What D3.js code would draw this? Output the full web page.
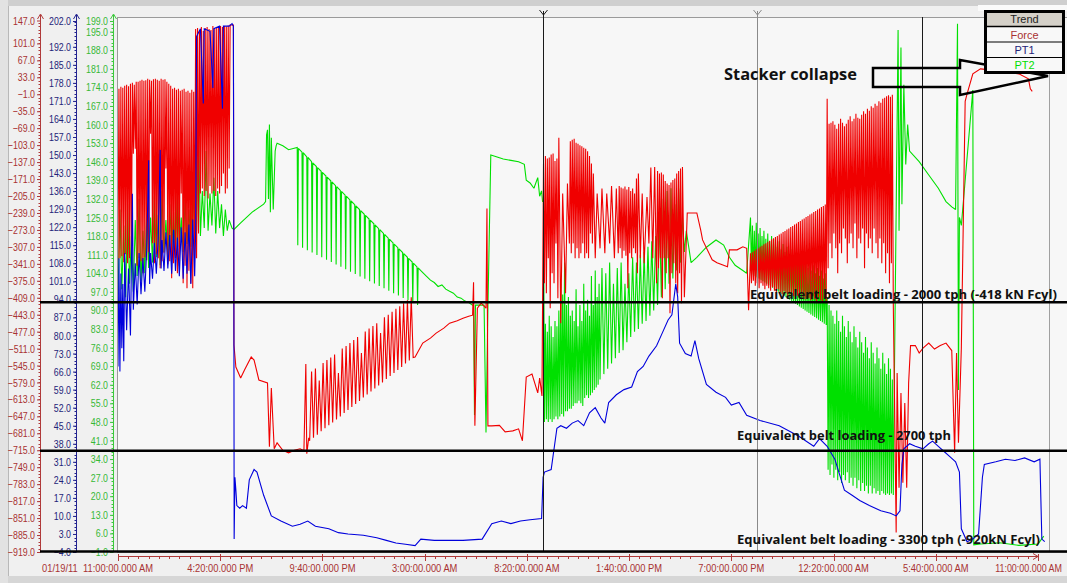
<!DOCTYPE html>
<html><head><meta charset="utf-8">
<script src="https://cdn.jsdelivr.net/npm/d3@7"></script>
<style>
html,body{margin:0;padding:0;background:#f0f0f0}
svg{display:block}
text{font-family:"Liberation Sans",Arial,sans-serif}
</style>
</head><body>
<svg id="chart" width="1067" height="583"></svg>
<script>
// ---- time axis: hours after 01/19/11 11:00 AM ----
const xTickLabels = ["11:00:00.000 AM","4:20:00.000 PM","9:40:00.000 PM","3:00:00.000 AM","8:20:00.000 AM",
  "1:40:00.000 PM","7:00:00.000 PM","12:20:00.000 AM","5:40:00.000 AM","11:00:00.000 AM"];
const xTickHours = [0, 5.333, 10.667, 16, 21.333, 26.667, 32, 37.333, 42.667, 48];
const startDateLabel = "01/19/11";

// ---- value axis ticks ----
const forceTicks = [147,101,67,33,-1,-35,-69,-103,-137,-171,-205,-239,-273,-307,-341,-375,-409,-443,-477,-511,
  -545,-579,-613,-647,-681,-715,-749,-783,-817,-851,-885,-919];
const pt1Ticks = [202,192,185,178,171,164,157,150,143,136,129,122,115,108,101,94,87,80,73,66,59,52,45,38,31,24,17,10,3,-4];
const pt2Ticks = [199,195,188,181,174,167,160,153,146,139,132,125,118,111,104,97,90,83,76,69,62,55,48,41,34,27,20,13,6,-1];

// ---- reference force levels (kN) ----
const beltLevels = [-418, -716, -918];
const beltNotes = ["Equivalent belt loading - 2000 tph (-418 kN Fcyl)", "Equivalent belt loading - 2700 tph",
  "Equivalent belt loading - 3300 tph (-920kN Fcyl)"];

// ---- cursor positions (hours) ----
const cursorHours = [22.17, 33.33, 41.95];

// ---- Force trend [hour, kN] ----
const force = [
[0.00,-333],[0.05,10],[0.10,-330],[0.15,14],[0.20,-326],[0.25,12],[0.30,-338],[0.35,16],[0.40,-322],[0.45,18],
[0.50,-340],[0.55,15],[0.60,-330],[0.65,20],[0.70,-325],[0.75,22],[0.80,-120],[0.85,18],[0.90,-110],[0.95,24],
[1.00,-345],[1.05,24],[1.10,-330],[1.15,26],[1.20,-336],[1.25,28],[1.30,-360],[1.35,26],[1.40,-328],[1.45,27],
[1.50,-334],[1.55,30],[1.60,-318],[1.65,28],[1.70,-80],[1.75,26],[1.80,-300],[1.85,29],[1.90,-340],[1.95,30],
[2.00,-322],[2.05,28],[2.10,-330],[2.15,26],[2.20,-350],[2.25,30],[2.30,-336],[2.35,28],[2.40,-320],[2.45,29],
[2.50,-150],[2.55,24],[2.60,-342],[2.65,20],[2.70,-336],[2.75,16],[2.80,-370],[2.85,10],[2.90,-340],[2.95,12],
[3.00,-330],[3.05,8],[3.10,-360],[3.15,10],[3.20,-345],[3.25,6],[3.30,-200],[3.35,8],[3.40,-380],[3.45,10],
[3.50,-345],[3.55,4],[3.60,-390],[3.65,6],[3.70,-355],[3.75,2],[3.80,-380],[3.85,8],[3.90,-390],[3.95,4],
[4.00,-330],[4.05,130],[4.10,-330],[4.15,132],[4.20,-280],[4.25,128],[4.30,-200],[4.35,134],[4.40,-190],[4.45,126],
[4.50,-205],[4.55,132],[4.60,-195],[4.65,134],[4.70,-210],[4.75,130],[4.80,-185],[4.85,128],[4.90,-200],[4.95,136],
[5.00,-195],[5.05,130],[5.10,-205],[5.15,134],[5.20,-190],[5.25,132],[5.30,-200],[5.35,136],[5.40,-185],[5.45,134],
[5.50,-160],[5.55,136],[5.60,-200],[5.65,135],[5.70,-190],[5.75,137],[5.80,-150],[5.85,138],[6.02,138],
[6.05,-504],[6.15,-548],[6.4,-570],[6.6,-554],[6.95,-528],[7.1,-534],[7.35,-574],[7.8,-580],[7.9,-708],[8.0,-590],
[8.15,-712],[8.3,-700],[8.6,-715],[8.9,-720],[9.2,-715],[9.5,-712],[9.7,-716],[9.8,-542],[9.85,-722],[9.95,-690],
[10.0,-696],[10.1,-557],[10.2,-690],[10.3,-551],[10.4,-684],[10.5,-575],[10.6,-677],[10.7,-540],[10.8,-671],[10.9,-534],
[11.0,-665],[11.1,-529],[11.2,-659],[11.3,-523],[11.4,-653],[11.5,-560],[11.6,-647],[11.7,-511],[11.8,-640],[11.9,-506],
[12.0,-634],[12.1,-500],[12.2,-628],[12.3,-494],[12.4,-622],[12.5,-488],[12.6,-616],[12.7,-520],[12.8,-609],[12.9,-477],
[13.0,-603],[13.1,-471],[13.2,-597],[13.3,-466],[13.4,-591],[13.5,-460],[13.6,-585],[13.7,-480],[13.8,-579],[13.9,-448],
[14.0,-572],[14.1,-443],[14.2,-566],[14.3,-437],[14.4,-560],[14.5,-431],[14.6,-554],[14.7,-426],[14.8,-548],[14.9,-420],
[15.0,-541],[15.1,-414],[15.2,-535],[15.3,-408],[15.4,-529],[15.5,-528],[15.9,-500],[16.3,-490],[16.6,-480],[17.0,-470],
[17.3,-460],[17.7,-455],[18.0,-450],[18.3,-446],[18.5,-444],[18.55,-378],[18.62,-666],[18.75,-430],[18.95,-420],[19.2,-430],
[19.25,-230],[19.3,-666],[19.5,-666],[19.9,-665],[20.2,-678],[20.6,-676],[20.9,-672],[21.1,-696],[21.3,-568],[21.6,-562],
[21.9,-600],[22.0,-570],[22.12,-606],[22.20,-140],[22.25,-380],[22.30,-125],[22.35,-400],[22.40,-130],[22.45,-330],
[22.50,-128],[22.55,-430],[22.60,-122],[22.65,-360],[22.70,-120],[22.75,-380],[22.80,-135],[22.85,-300],[22.90,-130],
[22.95,-410],[23.00,-88],[23.10,-460],[23.20,-200],[23.35,-400],[23.45,-180],[23.55,-300],[23.60,-95],[23.65,-320],
[23.70,-92],[23.75,-300],[23.80,-90],[23.85,-330],[23.90,-98],[23.95,-310],[24.00,-100],[24.05,-330],[24.10,-103],
[24.15,-320],[24.20,-105],[24.25,-300],[24.30,-108],[24.35,-330],[24.40,-110],[24.45,-320],[24.50,-115],[24.55,-330],
[24.60,-125],[24.65,-280],[24.70,-140],[24.75,-300],[24.80,-160],[24.9,-330],[25.0,-200],[25.15,-310],[25.25,-190],
[25.4,-320],[25.5,-200],[25.65,-300],[25.75,-185],[25.9,-330],[26.0,-190],[26.1,-320],[26.15,-185],[26.2,-310],
[26.25,-188],[26.3,-330],[26.35,-190],[26.4,-315],[26.45,-186],[26.5,-325],[26.55,-192],[26.6,-390],[26.65,-187],
[26.7,-320],[26.75,-195],[26.8,-330],[26.85,-190],[26.9,-310],[26.95,-200],[27.0,-320],[27.05,-170],[27.1,-360],
[27.15,-160],[27.25,-330],[27.35,-200],[27.45,-340],[27.6,-207],[27.7,-300],[27.8,-148],[27.9,-330],[28.0,-147],
[28.1,-380],[28.15,-155],[28.2,-350],[28.25,-160],[28.3,-330],[28.35,-158],[28.4,-410],[28.45,-162],[28.5,-330],
[28.55,-175],[28.6,-360],[28.65,-180],[28.7,-330],[28.75,-183],[28.8,-440],[28.85,-178],[28.9,-360],[28.95,-173],
[29.0,-340],[29.05,-170],[29.1,-380],[29.15,-160],[29.2,-400],[29.25,-155],[29.3,-360],[29.35,-150],[29.4,-420],
[29.45,-147],[29.55,-408],[29.7,-239],[30.2,-239],[30.4,-273],[30.5,-293],[31.0,-333],[31.25,-339],[31.8,-347],
[31.9,-313],[32.3,-313],[32.6,-307],[32.8,-310],[32.9,-434],
[33.00,-320],[33.05,-380],[33.10,-318],[33.15,-375],[33.20,-315],[33.25,-385],[33.30,-312],[33.35,-380],[33.40,-310],
[33.45,-390],[33.50,-307],[33.55,-380],[33.60,-305],[33.65,-385],[33.70,-302],[33.75,-392],[33.80,-300],[33.85,-385],
[33.90,-297],[33.95,-390],[34.00,-295],[34.05,-395],[34.10,-292],[34.15,-388],[34.20,-290],[34.25,-395],[34.30,-287],
[34.35,-400],[34.40,-285],[34.45,-392],[34.50,-282],[34.55,-398],[34.60,-280],[34.65,-402],[34.70,-277],[34.75,-396],
[34.80,-275],[34.85,-400],[34.90,-272],[34.95,-405],[35.00,-270],[35.05,-398],[35.10,-267],[35.15,-402],[35.20,-265],
[35.25,-406],[35.30,-262],[35.35,-400],[35.40,-260],[35.45,-405],[35.50,-257],[35.55,-410],[35.60,-255],[35.65,-402],
[35.70,-252],[35.75,-408],[35.80,-250],[35.85,-412],[35.90,-247],[35.95,-405],[36.00,-245],[36.05,-410],[36.10,-242],
[36.15,-414],[36.20,-240],[36.25,-406],[36.30,-237],[36.35,-412],[36.40,-235],[36.45,-416],[36.50,-232],[36.55,-408],
[36.60,-230],[36.65,-414],[36.70,-227],[36.75,-418],[36.80,-225],[36.85,-410],[36.90,-222],[36.95,-420],
[37.00,-10],[37.05,-350],[37.10,-60],[37.15,-300],[37.20,-58],[37.25,-330],[37.30,-55],[37.35,-280],[37.40,-62],
[37.45,-310],[37.50,-70],[37.55,-360],[37.60,-60],[37.65,-300],[37.70,-50],[37.75,-320],[37.80,-58],[37.85,-270],
[37.90,-65],[37.95,-290],[38.00,-60],[38.05,-340],[38.10,-52],[38.15,-300],[38.20,-45],[38.25,-280],[38.30,-55],
[38.35,-310],[38.40,-50],[38.45,-260],[38.50,-40],[38.55,-330],[38.60,-48],[38.65,-290],[38.70,-50],[38.75,-300],
[38.80,-42],[38.85,-270],[38.90,-35],[38.95,-350],[39.00,-40],[39.05,-280],[39.10,-30],[39.15,-310],[39.20,-34],
[39.25,-290],[39.30,-25],[39.35,-320],[39.40,-28],[39.45,-270],[39.50,-20],[39.55,-300],[39.60,-24],[39.65,-330],
[39.70,-15],[39.75,-290],[39.80,-18],[39.85,-340],[39.90,-10],[39.95,-300],[40.00,-8],[40.05,-360],[40.10,-5],
[40.15,-320],[40.20,-3],[40.25,-380],[40.30,-6],[40.35,-340],[40.40,-2],[40.45,-420],
[40.6,-880],[40.65,-560],[40.75,-790],[40.85,-600],[40.95,-780],[41.05,-620],[41.15,-790],[41.25,-580],[41.35,-505],
[41.6,-505],[41.8,-520],[42.0,-510],[42.3,-500],[42.6,-512],[42.9,-505],[43.2,-500],[43.5,-515],[43.65,-720],[43.75,-520],
[43.85,-700],[44.0,-510],[44.2,-15],[44.3,0],[44.6,40],[45.0,50],[45.5,48],[46.0,45],[46.5,42],[47.0,40],[47.5,30],
[47.6,10],[47.7,5]
];

// ---- PT1 trend ----
const pt1 = [
[0.00,68],[0.05,110],[0.1,66],[0.15,104],[0.2,75],[0.25,100],[0.3,70],[0.35,112],[0.45,82],[0.55,106],[0.65,80],
[0.75,135],[0.8,90],[0.9,108],[1.0,92],[1.1,112],[1.2,96],[1.3,110],[1.4,97],[1.5,114],[1.6,148],[1.65,100],[1.7,112],
[1.8,102],[1.9,116],[2.0,104],[2.1,118],[2.2,152],[2.25,106],[2.3,117],[2.4,105],[2.5,120],[2.6,106],[2.7,119],[2.8,104],
[2.9,121],[3.0,105],[3.1,118],[3.2,103],[3.3,122],[3.4,102],[3.5,120],[3.6,104],[3.7,123],[3.8,100],[3.9,125],[4.0,103],
[4.05,120],[4.1,196],[4.3,199],[4.45,170],[4.5,199],[4.8,198],[4.95,176],[5.0,199],[5.3,200],[5.45,168],[5.5,200],
[5.8,200],[5.95,201],[6.02,200],[6.04,135],[6.06,1],[6.1,25],[6.15,20],[6.2,14],[6.35,13],[6.5,14],
[6.7,13],[6.85,24],[7.1,28],[7.25,27],[7.6,18],[8.0,10],[8.5,8],[9.1,6],[9.5,6.8],[9.9,8],[10.3,6],[11.0,5],[11.5,3.5],
[12.0,3],[12.8,2.5],[13.5,1.5],[14.0,0.5],[14.5,-0.5],[15.0,-1],[15.5,-1.5],[15.8,1],[16.5,0.5],[18.0,0.5],[19.0,1],
[19.5,7],[20.0,8],[20.5,7],[21.0,8],[21.5,8.5],[22.1,9],[22.18,25],[22.25,27],[22.6,28],[22.9,44],[23.1,45],[23.4,44],
[23.7,46],[24.0,47],[24.3,45],[24.6,50],[24.9,52],[25.2,48],[25.4,46],[25.6,54],[26.0,57],[26.4,59],[26.8,60],[27.1,66],
[27.4,68],[27.7,72],[28.1,76],[28.4,81],[28.7,86],[28.9,88],[29.1,100],[29.2,95],[29.3,77],[29.6,73],[29.9,72],[30.1,78],
[30.3,71],[30.7,61],[31.2,58],[31.7,56],[32.0,53],[32.4,54],[32.8,49],[33.5,47],[34.5,45],[35.5,41],[36.3,37],[36.6,40],
[37.0,37],[37.4,32],[37.9,20],[38.3,18],[38.7,16],[39.2,14],[39.8,12],[40.3,11],[40.6,10],[40.8,12],[40.9,30],[41.0,36],
[41.3,38],[41.6,37],[42.0,36],[42.3,38],[42.5,39],[42.8,37],[43.1,35],[43.4,33],[43.7,31],[43.9,27],[44.0,5],[44.3,0],
[44.6,1],[44.9,3],[45.1,25],[45.2,30],[45.8,31],[46.3,32],[46.8,31.5],[47.3,32.5],[47.8,31],[48.1,32],[48.2,1],[48.35,0]
];

// ---- PT2 trend ----
const pt2 = [
[0.0,96],[0.1,128],[0.2,98],[0.3,122],[0.4,95],[0.5,130],[0.6,100],[0.7,118],[0.8,97],[0.9,124],[1.0,103],[1.1,132],
[1.2,101],[1.3,120],[1.4,104],[1.5,128],[1.6,106],[1.7,125],[1.8,108],[1.9,133],[2.0,110],[2.1,126],[2.2,107],[2.3,135],
[2.4,112],[2.5,124],[2.6,110],[2.7,130],[2.8,113],[2.9,127],[3.0,111],[3.1,136],[3.2,114],[3.3,125],[3.4,112],[3.5,132],
[3.6,115],[3.7,128],[3.8,114],[3.9,138],[4.0,118],[4.1,120],[4.2,160],[4.3,118],[4.4,135],[4.5,121],[4.6,150],[4.7,120],
[4.8,134],[4.9,122],[5.0,140],[5.1,119],[5.2,135],[5.3,121],[5.4,130],[5.5,118],[5.6,128],[5.7,120],[5.8,124],[5.95,121],
[6.05,120.5],[6.4,123],[7.0,127],[7.6,130],[7.7,131],[7.75,156],[7.8,158],[7.85,132],[7.9,160],[7.95,127],[8.0,155],
[8.1,128],[8.2,150],[8.25,152],[8.3,153],[8.6,152],[8.9,150.5],
[9.35,151.4],[9.38,114.5],[9.41,151.0],[9.6,149.6],[9.63,113.6],[9.66,149.4],[9.85,147.8],[9.88,112.7],[9.91,147.6],
[10.1,146.0],[10.13,111.8],[10.16,145.6],[10.35,144.2],[10.38,110.9],[10.41,143.8],[10.6,142.4],[10.63,110.0],[10.66,142.0],
[10.85,140.6],[10.88,109.1],[10.91,140.2],[11.1,138.8],[11.13,108.2],[11.16,138.4],[11.35,137.0],[11.38,107.3],[11.41,136.6],
[11.6,135.2],[11.63,106.4],[11.66,134.8],[11.85,133.4],[11.88,105.5],[11.91,133.0],[12.1,131.6],[12.13,104.6],[12.16,131.2],
[12.35,129.8],[12.38,103.7],[12.41,129.4],[12.6,128.0],[12.63,102.8],[12.66,127.6],[12.85,126.2],[12.88,101.9],[12.91,125.8],
[13.1,124.4],[13.13,101.0],[13.16,124.0],[13.35,122.6],[13.38,100.1],[13.41,122.2],[13.6,120.8],[13.63,99.2],[13.66,120.4],
[13.85,119.0],[13.88,98.3],[13.91,118.6],[14.1,117.2],[14.13,97.4],[14.16,116.8],[14.35,115.4],[14.38,96.5],[14.41,115.0],
[14.6,113.6],[14.63,95.6],[14.66,113.2],[14.85,111.8],[14.88,94.7],[14.91,111.4],[15.1,110.0],[15.13,93.8],[15.16,109.6],
[15.35,108.2],[15.38,92.9],[15.41,107.8],[15.6,106.4],[15.63,92.0],[15.66,106.0],[15.85,104.6],[16.1,102.8],
[16.3,101.4],[16.5,100.5],[16.7,99.0],[16.9,99.6],[17.1,98.0],[17.3,97.2],[17.5,96.5],[17.7,95.0],[17.9,94.6],[18.1,93.5],
[18.3,93.0],[18.5,92.0],[18.55,92],[18.6,50.6],[18.65,92],[19.1,92],[19.2,44],[19.3,91],[19.45,148.5],[19.7,148],
[20.1,147],[20.5,146.5],[20.9,146],[21.2,145],[21.3,139],[21.5,138],[21.7,136],[21.9,140],[22.0,133],[22.1,135],[22.15,131],
[22.20,131],[22.25,48],[22.30,85],[22.35,49],[22.40,82],[22.45,48],[22.50,88],[22.55,49],[22.60,84],[22.65,48],[22.70,80],
[22.75,49],[22.80,86],[22.85,50],[22.90,84],[22.95,49],[23.00,90],[23.05,50],[23.10,100],[23.15,51],[23.20,96],[23.25,50],
[23.30,108],[23.35,52],[23.40,92],[23.45,52],[23.50,95],[23.55,53],[23.60,88],[23.65,53],[23.70,90],[23.75,54],[23.80,86],
[23.85,55],[23.90,98],[23.95,55],[24.00,84],[24.05,56],[24.10,92],[24.15,55],[24.20,86],[24.25,54],[24.30,100],[24.35,57],
[24.40,90],[24.45,58],[24.50,94],[24.55,57],[24.60,88],[24.65,58],[24.70,103],[24.75,59],[24.80,92],[24.85,60],[24.90,105],
[24.95,61],[25.00,95],[25.05,62],[25.10,100],[25.15,64],[25.25,106],[25.35,66],[25.45,104],[25.55,68],[25.65,108],
[25.75,70],[25.85,100],[25.95,72],[26.05,106],[26.15,74],[26.25,108],[26.35,75],[26.45,100],[26.55,78],[26.65,104],
[26.75,80],[26.85,110],[26.95,82],[27.05,108],[27.15,83],[27.25,111],[27.35,85],[27.45,112],[27.55,86],[27.65,114],
[27.75,88],[27.85,116],[27.95,90],[28.05,118],[28.15,92],[28.25,125],[28.35,95],[28.45,132],[28.55,98],[28.65,135],
[28.75,100],[28.85,136],[28.95,102],[29.05,130],[29.15,105],[29.25,136],[29.35,108],[29.45,125],[29.55,112],[29.65,120],
[29.9,108],[30.2,110],[30.7,113.8],[31.2,116.5],[31.6,114.6],[31.9,110],[32.2,107],[32.6,105],[32.8,104],
[33.00,125],[33.05,104],[33.10,122],[33.15,103.5],[33.20,120],[33.25,103],[33.30,123],[33.35,102.5],[33.40,119],[33.45,102],
[33.50,121],[33.55,101.5],[33.60,118],[33.65,101],[33.70,120],[33.75,100.5],[33.80,117],[33.85,100],[33.90,119],[33.95,99.5],
[34.00,116],[34.05,99],[34.10,118],[34.15,98.5],[34.20,115],[34.25,98],[34.30,117],[34.35,97.5],[34.40,114],[34.45,97],
[34.50,116],[34.55,96.5],[34.60,113],[34.65,96],[34.70,115],[34.75,95.5],[34.80,112],[34.85,95],[34.90,114],[34.95,94.5],
[35.00,111],[35.05,94],[35.10,113],[35.15,93.5],[35.20,110],[35.25,93],[35.30,112],[35.35,92.5],[35.40,109],[35.45,92],
[35.50,111],[35.55,91.5],[35.60,108],[35.65,91],[35.70,110],[35.75,90.5],[35.80,107],[35.85,90],[35.90,109],[35.95,89.5],
[36.00,106],[36.05,89],[36.10,108],[36.15,88.5],[36.20,105],[36.25,88],[36.30,107],[36.35,87.5],[36.40,104],[36.45,87],
[36.50,106],[36.55,86.5],[36.60,103],[36.65,86],[36.70,105],[36.75,85.5],[36.80,102],[36.85,85],[36.90,104],[36.95,84.5],
[37.00,95],[37.05,30],[37.10,92],[37.15,28],[37.20,90],[37.25,32],[37.30,88],[37.35,27],[37.40,85],[37.45,30],[37.50,90],
[37.55,26],[37.60,86],[37.65,29],[37.70,82],[37.75,25],[37.80,88],[37.85,28],[37.90,84],[37.95,26],[38.00,80],[38.05,29],
[38.10,86],[38.15,25],[38.20,82],[38.25,27],[38.30,78],[38.35,24],[38.40,84],[38.45,27],[38.50,80],[38.55,23],[38.60,76],
[38.65,26],[38.70,82],[38.75,22],[38.80,78],[38.85,25],[38.90,74],[38.95,22],[39.00,80],[39.05,24],[39.10,76],[39.15,21],
[39.20,72],[39.25,24],[39.30,78],[39.35,21],[39.40,74],[39.45,23],[39.50,70],[39.55,21],[39.60,76],[39.65,22],[39.70,72],
[39.75,20.5],[39.80,68],[39.85,22],[39.90,74],[39.95,21],[40.00,70],[40.05,20.5],[40.10,66],[40.15,21],[40.20,72],
[40.25,20.5],[40.30,68],[40.35,21],[40.40,64],[40.45,20.5],[40.50,60],
[40.7,195.6],[40.75,120],[40.85,189],[40.9,130],[41.0,175],[41.1,145],[41.2,160],[41.3,150],[41.8,146],[42.3,141],
[42.8,136],[43.2,131],[43.5,129],[43.7,128],[43.8,198],[43.85,60],[43.9,125],[44.0,122],[44.6,173],[44.65,1.7],[45.0,2],
[46.0,2.5],[47.0,1.5],[48.0,2],[48.3,5]
];

// ---------------------------------------------------------------
const svg = d3.select("#chart");
const t0 = new Date(2011, 0, 19, 11, 0, 0);
const at = h => new Date(t0.getTime() + h * 3600e3);

const x = d3.scaleTime().domain([t0, at(48)]).range([118, 1038]);
const yF = d3.scaleLinear().domain([-919, 147]).range([552, 20.5]);
const yB = d3.scaleLinear().domain([-4, 202]).range([552, 21]);
const yG = d3.scaleLinear().domain([-1, 199]).range([552, 21]);

const C = {
  force: "#f00000", forceAxis: "#b03a3a", forceText: "#a83232",
  pt1: "#0000dc", pt1Axis: "#23238f", pt1Text: "#232378",
  pt2: "#00e000", pt2Axis: "#3cc83c", pt2Text: "#36b836"
};

// squeeze a text element horizontally to a narrow face
function narrow(sel, k) {
  sel.each(function () {
    const w = this.getComputedTextLength();
    d3.select(this).attr("textLength", w * k).attr("lengthAdjust", "spacingAndGlyphs");
  });
}

// window frame
svg.append("rect").attr("width", 1067).attr("height", 583).attr("fill", "#f0f0f0");
svg.append("rect").attr("x", 0).attr("y", 0).attr("width", 1067).attr("height", 6).attr("fill", "#cfcfcf");
svg.append("rect").attr("x", 0).attr("y", 576).attr("width", 1067).attr("height", 7).attr("fill", "#d6d6d6");
svg.append("rect").attr("x", 0).attr("y", 0).attr("width", 8).attr("height", 583).attr("fill", "#e2e2e2");
svg.append("line").attr("x1", 8.5).attr("x2", 8.5).attr("y1", 6).attr("y2", 576).attr("stroke", "#b8b8b8");

// plot area
svg.append("rect").attr("x", 117.5).attr("y", 17.5).attr("width", 960).attr("height", 535)
  .attr("fill", "#f7f7f7").attr("stroke", "#9a9a9a");

svg.append("defs").append("clipPath").attr("id", "plotClip")
  .append("rect").attr("x", 118).attr("y", 18).attr("width", 932).attr("height", 536);

// value axes
function valueAxis(scale, ticks, xPos, axisColor, textColor, minorStep) {
  const g = svg.append("g").attr("transform", `translate(${xPos},0)`);
  const ax = d3.axisLeft(scale).tickValues(ticks).tickFormat(d3.format(".1f"))
    .tickSize(3).tickSizeOuter(0).tickPadding(2);
  g.call(ax);
  g.select(".domain").remove();
  g.selectAll(".tick line").attr("stroke", axisColor);
  g.selectAll(".tick text").attr("fill", textColor).style("font-size", "11px")
    .style("font-family", '"Liberation Sans",Arial,sans-serif').call(narrow, 0.8);
  const [lo, hi] = scale.domain();
  g.append("line").attr("x1", 0.5).attr("x2", 0.5).attr("y1", 15).attr("y2", scale(lo))
    .attr("stroke", axisColor);
  g.selectAll(".minor").data(d3.range(lo, hi, minorStep)).join("line")
    .attr("x1", -1.5).attr("x2", 0.5).attr("y1", d => Math.round(scale(d)) + 0.5)
    .attr("y2", d => Math.round(scale(d)) + 0.5).attr("stroke", axisColor);
  g.append("path").attr("d", "M-2.5,19 L0.5,14 L3.5,19").attr("fill", "none").attr("stroke", axisColor);
}
valueAxis(yF, forceTicks, 40, C.forceAxis, C.forceText, 6.8);
valueAxis(yB, pt1Ticks, 76, C.pt1Axis, C.pt1Text, 1.4);
valueAxis(yG, pt2Ticks, 113, C.pt2Axis, C.pt2Text, 1.4);

// time axis
const xa = svg.append("g");
xa.append("line").attr("x1", 118).attr("x2", 1038).attr("y1", 556.5).attr("y2", 556.5).attr("stroke", C.forceAxis);
xa.append("path").attr("d", "M1033,553.5 L1038,556.5 L1033,559.5").attr("fill", "none").attr("stroke", C.forceAxis);
xa.selectAll(".minor").data(d3.range(0, 48, 48 / 90)).join("line")
  .attr("x1", d => Math.round(x(at(d))) + 0.5).attr("x2", d => Math.round(x(at(d))) + 0.5)
  .attr("y1", 556.5).attr("y2", 559).attr("stroke", C.forceAxis);
xa.selectAll(".major").data(xTickHours).join("line")
  .attr("x1", d => Math.round(x(at(d))) + 0.5).attr("x2", d => Math.round(x(at(d))) + 0.5)
  .attr("y1", 554).attr("y2", 561).attr("stroke", C.forceAxis);
const lastTick = xTickHours.length - 1;
xa.selectAll(".lbl").data(xTickHours).join("text")
  .attr("x", (d, i) => i === lastTick ? 1062 : x(at(d))).attr("y", 572)
  .attr("text-anchor", (d, i) => i === lastTick ? "end" : "middle")
  .attr("fill", C.forceText).style("font-size", (d, i) => i === lastTick ? "10.5px" : "11px")
  .text((d, i) => xTickLabels[i]).call(narrow, 0.85);
xa.append("text").attr("x", 42).attr("y", 572).attr("fill", C.forceText).style("font-size", "11px")
  .text(startDateLabel).call(narrow, 0.85);

// traces: PT2 underneath, Force over it, PT1 on top
const plot = svg.append("g").attr("clip-path", "url(#plotClip)");
function trace(data, yScale, color) {
  plot.append("path").datum(data)
    .attr("d", d3.line().x(d => x(at(d[0]))).y(d => yScale(d[1])))
    .attr("fill", "none").attr("stroke", color).attr("stroke-width", 1.1)
    .attr("stroke-linejoin", "miter").attr("stroke-miterlimit", 2);
}
trace(pt2, yG, C.pt2);
trace(force, yF, C.force);
trace(pt1, yB, C.pt1);

// cursors
const cursorColors = ["#1a1a1a", "#8a8a8a", "#1a1a1a"];
cursorHours.forEach((h, i) => {
  const cx = Math.round(x(at(h))) + 0.5;
  svg.append("line").attr("x1", cx).attr("x2", cx).attr("y1", i < 2 ? 11 : 17).attr("y2", 552)
    .attr("stroke", cursorColors[i]);
  if (i < 2) svg.append("path").attr("d", `M${cx - 4},10 L${cx},15 L${cx + 4},10`)
    .attr("fill", "none").attr("stroke", cursorColors[i]);
});
svg.append("line").attr("x1", 1049.5).attr("x2", 1049.5).attr("y1", 17).attr("y2", 552).attr("stroke", "#a0a0a0");

// belt-loading reference lines
beltLevels.forEach(v => {
  svg.append("line").attr("x1", 40).attr("x2", 1067).attr("y1", yF(v)).attr("y2", yF(v))
    .attr("stroke", "#000").attr("stroke-width", 2.6);
});
const noteFont = '"Open Sans","DejaVu Sans",sans-serif';
[[750, 299, 307], [737, 440, 214], [737, 544, 303]].forEach((p, i) => {
  svg.append("text").attr("x", p[0]).attr("y", p[1]).attr("textLength", p[2])
    .attr("lengthAdjust", "spacingAndGlyphs").style("font-family", noteFont)
    .style("font-weight", "bold").style("font-size", "13px").attr("fill", "#111").text(beltNotes[i]);
});

// collapse callout
svg.append("text").attr("x", 724).attr("y", 80).attr("textLength", 133).attr("lengthAdjust", "spacingAndGlyphs")
  .style("font-family", noteFont).style("font-weight", "bold").style("font-size", "16px").attr("fill", "#111")
  .text("Stacker collapse");
svg.append("path").attr("d", "M873,68 L960,68 L960,60 L1048,76 L960,95 L960,87 L873,87 Z")
  .attr("fill", "none").attr("stroke", "#000").attr("stroke-width", 2.5);

// legend
const lg = svg.append("g");
lg.append("rect").attr("x", 978).attr("y", 5).attr("width", 89).attr("height", 6).attr("fill", "#fafafa");
lg.append("rect").attr("x", 985.5).attr("y", 11.5).attr("width", 78).attr("height", 61)
  .attr("fill", "#f8f8f8").attr("stroke", "#000").attr("stroke-width", 3);
lg.append("rect").attr("x", 987).attr("y", 13).attr("width", 75).attr("height", 13).attr("fill", "#d4d0c8");
[26.5, 42, 57.5].forEach(yy => lg.append("line").attr("x1", 986).attr("x2", 1063).attr("y1", yy).attr("y2", yy)
  .attr("stroke", "#000").attr("stroke-width", yy < 30 ? 1.5 : 1.2));
const legendRows = [["Trend", "#222", 23], ["Force", C.forceText, 38.5], ["PT1", C.pt1Text, 54], ["PT2", C.pt2, 69]];
legendRows.forEach(r => lg.append("text").attr("x", 1024.5).attr("y", r[2]).attr("text-anchor", "middle")
  .attr("fill", r[1]).style("font-size", "11px").text(r[0]));
</script>
</body></html>
